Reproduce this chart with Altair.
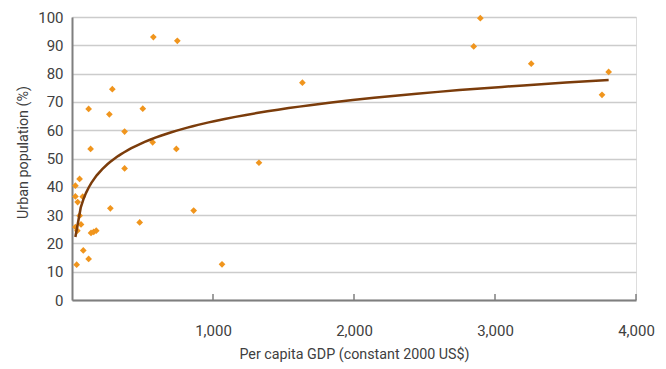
import altair as alt
import pandas as pd

# Per capita GDP (constant 2000 US$) and urban population (%) per country
gdp = [286, 118, 265, 502, 373, 132, 572, 740, 1326, 373,
       54, 24, 24, 76, 40, 272, 863, 54, 64, 24,
       38, 480, 135, 154, 172, 80, 118, 33, 1064, 577,
       747, 1634, 2849, 2896, 3257, 3806, 3759]
urban = [74.5, 67.5, 65.6, 67.6, 59.5, 53.4, 55.7, 53.4, 48.5, 46.5,
         42.8, 40.4, 36.6, 36.5, 34.6, 32.4, 31.6, 29.8, 26.7, 25.8,
         24.5, 27.4, 23.7, 24.1, 24.5, 17.5, 14.5, 12.5, 12.6, 92.9,
         91.6, 76.8, 89.6, 99.6, 83.5, 80.6, 72.5]
x_ticks = [1000, 2000, 3000, 4000]
y_ticks = [0, 10, 20, 30, 40, 50, 60, 70, 80, 90, 100]

df = pd.DataFrame({"gdp": gdp, "urban": urban})
ticks_df = pd.DataFrame({"t": x_ticks})

FONT = "Roboto"
TXT = "#404040"
AX = "#7f7f7f"

xscale = alt.Scale(domain=[0, 4000], nice=False, zero=True)
yscale = alt.Scale(domain=[0, 100], nice=False)

xaxis = alt.Axis(values=x_ticks, format=",.0f", grid=False, ticks=False,
                 domainColor=AX, domainWidth=2,
                 labelFont=FONT, labelFontSize=15, labelColor=TXT,
                 labelBaseline="alphabetic", labelPadding=35,
                 labelOverlap=False, labelFlush=False,
                 title="Per capita GDP (constant 2000 US$)",
                 titleFont=FONT, titleFontSize=14.3, titleFontWeight="normal",
                 titleColor=TXT, titleBaseline="alphabetic", titleY=58)
yaxis = alt.Axis(values=y_ticks, tickCount=11, grid=True, gridColor="#cccccc",
                 gridWidth=1.5, ticks=False, domainColor=AX, domainWidth=2,
                 labelFont=FONT, labelFontSize=15, labelColor=TXT,
                 labelPadding=9, labelOverlap=False, labelFlush=False,
                 title="Urban population (%)",
                 titleFont=FONT, titleFontSize=14.3, titleFontWeight="normal",
                 titleColor=TXT, titleX=-42, titleY=135, titleAlign="center")

points = alt.Chart(df).mark_point(shape="diamond", filled=True, size=45,
                                  color="#F0951D", opacity=1).encode(
    x=alt.X("gdp:Q", scale=xscale, axis=xaxis),
    y=alt.Y("urban:Q", scale=yscale, axis=yaxis),
)

trend = alt.Chart(df).transform_regression(
    "gdp", "urban", method="log"
).mark_line(color="#7B3C0B", strokeWidth=2.5).encode(
    x=alt.X("gdp:Q", scale=xscale, axis=xaxis),
    y=alt.Y("urban:Q", scale=yscale, axis=yaxis),
)

tick_marks = alt.Chart(ticks_df).mark_rule(color=AX, strokeWidth=1.5).encode(
    x=alt.X("t:Q", scale=xscale, axis=xaxis),
    y=alt.value(283),
    y2=alt.value(277),
)

chart = alt.layer(points, trend, tick_marks).properties(
    width=564, height=283,
    autosize=alt.AutoSizeParams(type="none"),
    padding={"left": 64, "top": 9, "right": 22, "bottom": 64},
).configure_view(stroke=None).configure(background="white")

chart.save("out.html", embed_options={"renderer": "svg", "actions": False})
